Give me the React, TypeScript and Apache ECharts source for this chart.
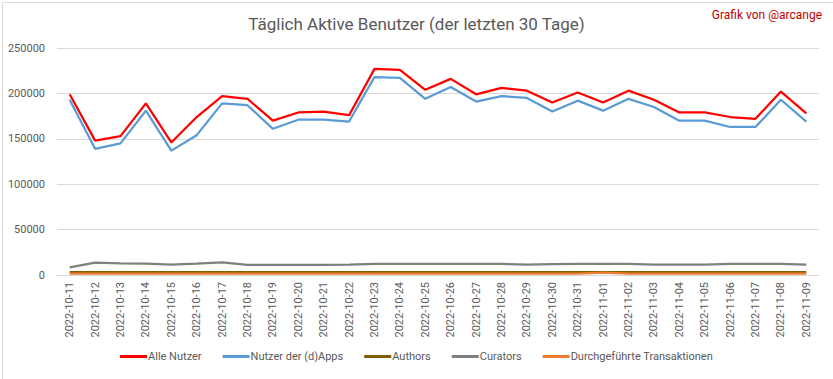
import React, { useEffect, useRef } from "react";
import * as echarts from "echarts";

const dates = [
  "2022-10-11","2022-10-12","2022-10-13","2022-10-14","2022-10-15","2022-10-16","2022-10-17","2022-10-18","2022-10-19","2022-10-20",
  "2022-10-21","2022-10-22","2022-10-23","2022-10-24","2022-10-25","2022-10-26","2022-10-27","2022-10-28","2022-10-29","2022-10-30",
  "2022-10-31","2022-11-01","2022-11-02","2022-11-03","2022-11-04","2022-11-05","2022-11-06","2022-11-07","2022-11-08","2022-11-09",
];
const alleNutzer = [
  199000,148000,153000,189000,146000,174000,197000,194000,170000,179000,
  180000,176000,227000,226000,204000,216000,199000,206000,203000,190000,
  201000,190000,203000,193000,179000,179000,174000,172000,202000,178000,
];
const dappsNutzer = [
  193000,139000,145000,181000,137000,154000,189000,187000,161000,171000,
  171000,169000,218000,217000,194000,207000,191000,197000,195000,180000,
  192000,181000,194000,185000,170000,170000,163000,163000,193000,169000,
];
const authors = [
  3300,3300,3300,3300,3300,3300,3300,3300,3300,3300,
  3300,3300,3300,3300,3300,3300,3300,3300,3300,3300,
  3300,3300,3300,3300,3300,3300,3300,3300,3300,3300,
];
const curators = [
  8500,13600,12700,12600,11400,12500,13800,11200,11100,11200,
  11200,11300,12300,12300,12300,12300,12300,12300,11400,12000,
  12300,12300,12300,11400,11400,11400,12300,12300,12300,11400,
];
const transaktionen = [
  1500,1500,1500,1500,1500,1500,1500,1500,1500,1500,
  1500,1500,1500,1500,1500,1500,1500,1500,1500,1500,
  1500,2600,1500,1500,1500,1500,1500,1500,1500,1500,
];
const seriesNames = ["Alle Nutzer", "Nutzer der (d)Apps", "Authors", "Curators", "Durchgeführte Transaktionen"];
const seriesColors = ["#FF0000", "#5B9BD5", "#7F6000", "#7F7F7F", "#ED7D31"];

export default function App() {
  const ref = useRef<HTMLDivElement>(null);
  useEffect(() => {
    document.body.style.margin = "0";
    const chart = echarts.init(ref.current!, null, { renderer: "svg" });
    const font = "Roboto";
    const data = [alleNutzer, dappsNutzer, authors, curators, transaktionen];
    chart.setOption({
      animation: false,
      backgroundColor: "#ffffff",
      textStyle: { fontFamily: font },
      title: {
        text: "Täglich Aktive Benutzer (der letzten 30 Tage)",
        left: "center",
        top: 10,
        textStyle: { fontFamily: font, fontSize: 17, fontWeight: "normal", color: "#595959" },
      },
      graphic: [
        {
          type: "text",
          right: 11,
          top: 9,
          style: { text: "Grafik von @arcange", fill: "#C00000", font: `12px ${font}` },
        },
        {
          type: "rect",
          left: 0,
          top: 0,
          shape: { width: 832, height: 378 },
          style: { fill: "none", stroke: "#D9D9D9", lineWidth: 1 },
          silent: true,
        },
      ],
      legend: {
        bottom: 12,
        left: "center",
        itemWidth: 27,
        itemHeight: 3,
        itemGap: 21,
        icon: "rect",
        textStyle: { fontFamily: font, fontSize: 11, color: "#595959", padding: [0, 0, 0, -4] },
        data: seriesNames,
      },
      grid: { left: 57, right: 14, top: 48, bottom: 104 },
      xAxis: {
        type: "category",
        data: dates,
        boundaryGap: true,
        axisLine: { lineStyle: { color: "#D9D9D9" } },
        axisTick: { show: false },
        axisLabel: { rotate: 90, interval: 0, fontSize: 11, color: "#595959", fontFamily: font, margin: 7 },
      },
      yAxis: {
        type: "value",
        min: 0,
        max: 250000,
        interval: 50000,
        axisLine: { show: false },
        axisTick: { show: false },
        splitLine: { lineStyle: { color: "#D9D9D9" } },
        axisLabel: {
          fontSize: 11,
          color: "#595959",
          fontFamily: font,
          margin: 12,
          formatter: (v: number) => String(v),
        },
      },
      series: data.map((d, i) => ({
        name: seriesNames[i],
        type: "line",
        data: d,
        symbol: "none",
        color: seriesColors[i],
        lineStyle: { color: seriesColors[i], width: 2.25 },
        z: 2 + i,
      })),
    });
    return () => chart.dispose();
  }, []);
  return <div ref={ref} style={{ width: 833, height: 379, position: "absolute", left: 0, top: 0 }} />;
}
